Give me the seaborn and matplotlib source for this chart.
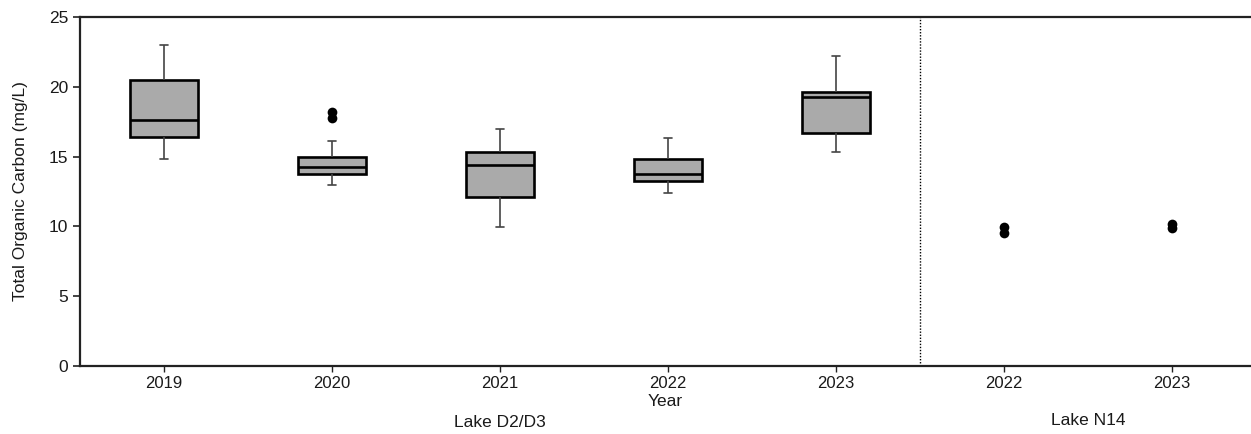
import matplotlib
matplotlib.use("Agg")
import matplotlib.pyplot as plt
import pandas as pd
import seaborn as sns

# Años por lago (etiquetas del eje x)
lake_d_years = ["2019", "2020", "2021", "2022", "2023"]
lake_n_years = ["2022", "2023"]

whisker_lo = [14.85, 12.95, 9.95, 12.4, 15.35]
q1 = [16.4, 13.75, 12.1, 13.25, 16.7]
median = [17.6, 14.25, 14.4, 13.75, 19.3]
q3 = [20.5, 15.0, 15.3, 14.8, 19.6]
whisker_hi = [23.0, 16.15, 17.0, 16.35, 22.2]

# Puntos sueltos: atípicos de 2020 y las muestras de N14 (sin caja)
point_group = ["D 2020", "D 2020", "N 2022", "N 2022", "N 2023", "N 2023"]
point_toc = [18.2, 17.8, 9.95, 9.5, 10.2, 9.9]

keys = ["D " + y for y in lake_d_years] + ["N " + y for y in lake_n_years]

# Cinco valores por caja: con percentiles lineales reproducen q1/mediana/q3
rows = []
for i, year in enumerate(lake_d_years):
    for v in (whisker_lo[i], q1[i], median[i], q3[i], whisker_hi[i]):
        rows.append({"group": "D " + year, "toc": v})
df = pd.DataFrame(rows)

sns.set_theme(style="ticks")
plt.rcParams["font.family"] = ["Liberation Sans", "DejaVu Sans"]
plt.rcParams["text.color"] = "#1a1a1a"
plt.rcParams["axes.labelcolor"] = "#1a1a1a"
plt.rcParams["xtick.labelcolor"] = "#1a1a1a"
plt.rcParams["ytick.labelcolor"] = "#1a1a1a"

fig = plt.figure(figsize=(12.51, 4.34), dpi=100)
ax = fig.add_axes([80 / 1251, 68 / 434, 1 - 80 / 1251, 349 / 434])

sns.boxplot(data=df, x="group", y="toc", order=keys, whis=(0, 100),
            width=0.4, color="#aaaaaa", saturation=1, linecolor="black",
            linewidth=1.9, showfliers=False,
            whiskerprops=dict(color="#444444", linewidth=1.2),
            capprops=dict(color="#444444", linewidth=1.2),
            medianprops=dict(color="black", linewidth=1.9),
            capwidths=0.05, ax=ax)

sns.stripplot(x=point_group, y=point_toc, order=keys, jitter=False,
              color="black", size=7, ax=ax)

# Separador entre lagos
ax.axvline(len(lake_d_years) - 0.5, color="black", linestyle=(0, (1, 1.2)),
           linewidth=1)

ax.set_xlim(-0.5, -0.5 + (1251 - 80) / 168)
ax.set_ylim(0, 25)
ax.set_yticks([0, 5, 10, 15, 20, 25])
ax.set_xticks(range(len(keys)))
ax.set_xticklabels(lake_d_years + lake_n_years, fontsize=12)
ax.tick_params(axis="y", labelsize=12.5, length=5, width=1.2, color="#222222")
ax.tick_params(axis="x", length=4, width=1, color="#222222")

ax.set_ylabel("Total Organic Carbon (mg/L)", fontsize=12.5, labelpad=15)
ax.set_xlabel("Year", fontsize=12.5, labelpad=2)

for side in ["left", "bottom", "top"]:
    ax.spines[side].set_color("#222222")
    ax.spines[side].set_linewidth(1.6)
ax.spines["right"].set_visible(False)

ax.text(2, -0.163, "Lake D2/D3", transform=ax.get_xaxis_transform(),
        ha="center", va="center", fontsize=12.5)
ax.text(5.5, -0.155, "Lake N14", transform=ax.get_xaxis_transform(),
        ha="center", va="center", fontsize=12.5)

fig.savefig("out.png", dpi=100)
